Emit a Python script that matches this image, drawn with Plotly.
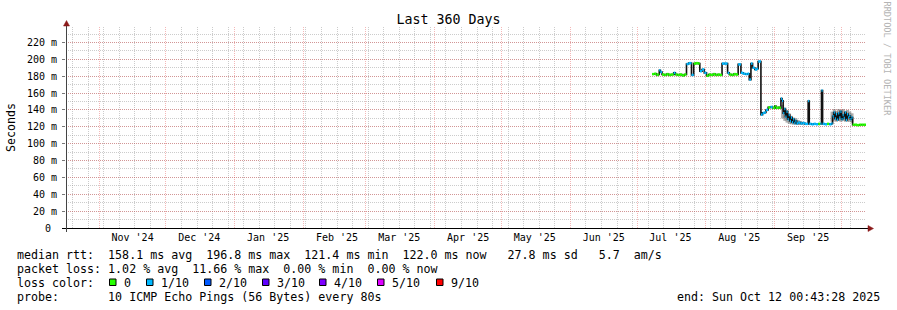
import plotly.graph_objects as go

# ---------------- data ----------------
title_text = "Last 360 Days"
x_start = "2024-10-17 00:43:28"
x_end = "2025-10-12 00:43:28"

month_label_dates = ["2024-11-16", "2024-12-16", "2025-01-16", "2025-02-16",
                     "2025-03-16", "2025-04-16", "2025-05-16", "2025-06-16",
                     "2025-07-16", "2025-08-16", "2025-09-16"]
month_labels = ["Nov '24", "Dec '24", "Jan '25", "Feb '25", "Mar '25", "Apr '25",
                "May '25", "Jun '25", "Jul '25", "Aug '25", "Sep '25"]

y_tick_vals = [0.0, 0.02, 0.04, 0.06, 0.08, 0.10, 0.12, 0.14, 0.16, 0.18, 0.20, 0.22]
y_tick_text = ["0\u00a0", "20 m", "40 m", "60 m", "80 m", "100 m", "120 m",
               "140 m", "160 m", "180 m", "200 m", "220 m"]

# median rtt (ms) and loss bucket (0 -> "0", 1 -> "1/10")
rtt_dates = [
    "2025-07-07 18:00", "2025-07-08 18:00", "2025-07-09 18:00", "2025-07-10 12:00",
    "2025-07-11 00:00", "2025-07-11 12:00", "2025-07-12 06:00", "2025-07-13 06:00",
    "2025-07-14 06:00", "2025-07-15 06:00", "2025-07-16 06:00", "2025-07-17 12:00",
    "2025-07-18 06:00", "2025-07-19 06:00", "2025-07-20 06:00", "2025-07-21 06:00",
    "2025-07-22 06:00", "2025-07-23 06:00", "2025-07-24 06:00", "2025-07-25 12:00",
    "2025-07-26 12:00", "2025-07-27 12:00", "2025-07-28 12:00", "2025-07-29 06:00",
    "2025-07-30 06:00", "2025-07-31 06:00", "2025-08-01 06:00", "2025-08-02 06:00",
    "2025-08-03 06:00", "2025-08-04 06:00", "2025-08-05 06:00", "2025-08-06 06:00",
    "2025-08-07 06:00", "2025-08-08 06:00", "2025-08-09 06:00", "2025-08-10 18:00",
    "2025-08-11 12:00", "2025-08-12 12:00", "2025-08-13 12:00", "2025-08-14 12:00",
    "2025-08-15 12:00", "2025-08-16 18:00", "2025-08-17 18:00", "2025-08-18 18:00",
    "2025-08-19 18:00", "2025-08-20 12:00", "2025-08-21 06:00", "2025-08-22 00:00",
    "2025-08-23 00:00", "2025-08-24 00:00", "2025-08-24 12:00", "2025-08-25 18:00",
    "2025-08-26 12:00", "2025-08-27 12:00", "2025-08-28 00:00", "2025-08-29 00:00",
    "2025-08-30 00:00", "2025-08-31 00:00", "2025-09-01 00:00", "2025-09-01 12:00",
    "2025-09-02 12:00", "2025-09-03 00:00", "2025-09-03 18:00", "2025-09-04 06:00",
    "2025-09-04 18:00", "2025-09-05 06:00", "2025-09-05 18:00", "2025-09-06 06:00",
    "2025-09-06 18:00", "2025-09-07 06:00", "2025-09-07 18:00", "2025-09-08 06:00",
    "2025-09-08 18:00", "2025-09-09 06:00", "2025-09-09 18:00", "2025-09-10 06:00",
    "2025-09-10 18:00", "2025-09-11 12:00", "2025-09-12 12:00", "2025-09-13 12:00",
    "2025-09-14 12:00", "2025-09-16 00:00", "2025-09-16 12:00", "2025-09-17 12:00",
    "2025-09-18 12:00", "2025-09-19 12:00", "2025-09-20 12:00", "2025-09-21 12:00",
    "2025-09-22 00:00", "2025-09-22 12:00", "2025-09-23 12:00", "2025-09-24 12:00",
    "2025-09-25 12:00", "2025-09-26 12:00", "2025-09-27 00:00", "2025-09-27 12:00",
    "2025-09-28 00:00", "2025-09-28 12:00", "2025-09-29 00:00", "2025-09-29 12:00",
    "2025-09-30 00:00", "2025-09-30 12:00", "2025-10-01 00:00", "2025-10-01 12:00",
    "2025-10-02 00:00", "2025-10-02 12:00", "2025-10-03 00:00", "2025-10-03 12:00",
    "2025-10-04 00:00", "2025-10-04 12:00", "2025-10-05 00:00", "2025-10-05 12:00",
    "2025-10-06 00:00", "2025-10-07 00:00", "2025-10-08 00:00", "2025-10-09 00:00",
    "2025-10-10 00:00", "2025-10-11 00:00", "2025-10-12 00:00",
]
rtt_median_ms = [
    182.5, 183.0, 181.5, 182.0,
    187.0, 185.0, 182.0, 181.5,
    182.5, 181.5, 182.0, 184.0,
    182.0, 181.5, 182.0, 181.0,
    182.0, 194.5, 195.5, 181.5,
    195.0, 195.5, 195.0, 186.0,
    188.0, 184.0, 180.5, 182.0,
    181.5, 182.5, 181.5, 182.0,
    181.5, 195.0, 195.0, 184.0,
    182.0, 181.5, 182.5, 182.0,
    194.0, 184.0, 183.0, 182.5,
    183.0, 176.0, 195.0, 190.0,
    188.0, 189.0, 197.5, 134.5,
    136.5, 137.0, 140.0, 143.0,
    143.5, 142.5, 144.5, 142.5,
    143.0, 142.5, 153.5, 151.0,
    136.0, 141.0, 132.0, 138.0,
    129.0, 134.0, 127.0, 131.0,
    125.5, 129.0, 124.5, 127.0,
    124.0, 125.0, 124.0, 124.5,
    123.5, 150.5, 123.5, 123.0,
    123.5, 123.0, 123.5, 123.5,
    163.0, 123.5, 123.0, 123.5,
    123.0, 124.0, 132.5, 137.0,
    130.0, 135.0, 128.5, 136.0,
    131.0, 138.0, 129.0, 134.0,
    130.5, 137.0, 128.0, 135.0,
    131.0, 133.0, 129.0, 131.0,
    122.5, 122.5, 122.0, 122.5,
    122.5, 122.5, 122.0,
]
loss_level = [
    0, 0, 0, 0,
    1, 1, 0, 0,
    0, 0, 0, 1,
    0, 0, 0, 0,
    0, 1, 1, 1,
    0, 0, 0, 1,
    1, 1, 0, 0,
    0, 0, 0, 0,
    0, 1, 1, 1,
    0, 0, 0, 0,
    1, 1, 1, 1,
    1, 1, 1, 1,
    1, 1, 1, 1,
    1, 1, 1, 0,
    1, 0, 0, 0,
    0, 0, 1, 1,
    1, 1, 1, 1,
    1, 1, 1, 1,
    1, 1, 1, 1,
    1, 1, 1, 1,
    1, 1, 1, 1,
    1, 1, 0, 1,
    1, 1, 1, 0,
    1, 1, 1, 1,
    1, 1, 1, 1,
    1, 1, 1, 1,
    1, 1, 1, 1,
    1, 1, 1, 1,
    0, 0, 0, 0,
    0, 0, 0,
]

# smoke (spread of individual pings, ms)
smoke_dates = [
    "2025-09-04 12:00", "2025-09-05 12:00", "2025-09-06 12:00", "2025-09-07 12:00",
    "2025-09-08 12:00", "2025-09-09 12:00", "2025-09-10 12:00", "2025-09-11 12:00",
    "2025-09-12 12:00", "2025-09-13 12:00",
    "2025-09-26 18:00", "2025-09-27 18:00", "2025-09-28 18:00", "2025-09-29 18:00",
    "2025-09-30 18:00", "2025-10-01 18:00", "2025-10-02 18:00", "2025-10-03 18:00",
    "2025-10-04 18:00", "2025-10-05 18:00",
]
smoke_lo_ms = [130.0, 127.0, 125.0, 123.5, 123.0, 122.5, 122.5, 122.5, 122.5, 122.5,
               126.0, 127.0, 126.0, 127.0, 126.0, 127.0, 126.0, 126.0, 126.0, 125.0]
smoke_hi_ms = [146.0, 143.0, 140.0, 136.0, 133.0, 131.0, 130.0, 128.0, 127.0, 126.0,
               138.0, 141.0, 139.0, 141.0, 140.0, 141.0, 139.0, 140.0, 138.0, 136.0]

loss_names = ["0", "1/10", "2/10", "3/10", "4/10", "5/10", "9/10"]
loss_colors = ["#26ff00", "#00b8ff", "#0059ff", "#5e00ff", "#7e00ff", "#dd00ff", "#ff0000"]

stats_line = "median rtt:  158.1 ms avg  196.8 ms max  121.4 ms min  122.0 ms now   27.8 ms sd   5.7  am/s"
loss_line = "packet loss: 1.02 % avg  11.66 % max  0.00 % min  0.00 % now"
probe_line = "probe:       10 ICMP Echo Pings (56 Bytes) every 80s"
end_line = "end: Sun Oct 12 00:43:28 2025"
watermark = "RRDTOOL / TOBI OETIKER"

# ---------------- layout geometry (pixels) ----------------
W, H = 897, 310
PL, PR, PT, PB = 66, 866, 27, 228
MONO = "DejaVu Sans Mono"


def px2x(px):
    return (px - PL) / (PR - PL)


def py2y(py):
    return (PB - py) / (PB - PT)


def nb(s):
    return s.replace(" ", "\u00a0")


fig = go.Figure()

# smoke
sx, sy = [], []
for d, lo, hi in zip(smoke_dates, smoke_lo_ms, smoke_hi_ms):
    sx += [d, d, None]
    sy += [lo / 1000, hi / 1000, None]
fig.add_trace(go.Scatter(x=sx, y=sy, mode="lines", line=dict(color="rgba(90,90,90,0.5)", width=3),
                         hoverinfo="skip", showlegend=False))

# black median step line
fig.add_trace(go.Scatter(x=rtt_dates + [x_end], y=[v / 1000 for v in rtt_median_ms] + [rtt_median_ms[-1] / 1000],
                         mode="lines", line=dict(color="#111111", width=1.6, shape="hv"),
                         hoverinfo="skip", showlegend=False))

# loss coloured median segments
for lvl, col in enumerate(loss_colors):
    xs, ys = [], []
    for i, d in enumerate(rtt_dates):
        if loss_level[i] != lvl:
            continue
        d1 = rtt_dates[i + 1] if i + 1 < len(rtt_dates) else x_end
        xs += [d, d1, None]
        ys += [rtt_median_ms[i] / 1000, rtt_median_ms[i] / 1000, None]
    if xs:
        fig.add_trace(go.Scatter(x=xs, y=ys, mode="lines", line=dict(color=col, width=2.5),
                                 hoverinfo="skip", showlegend=False))

# dummy (invisible) trace to carry the label axis
fig.add_trace(go.Scatter(x=[x_end], y=[0], xaxis="x2", mode="markers", marker=dict(opacity=0),
                         hoverinfo="skip", showlegend=False))

grid_grey = "rgba(143,143,143,0.45)"
grid_red = "rgba(222,48,48,0.34)"

fig.update_layout(
    width=W, height=H,
    margin=dict(l=PL, r=W - PR, t=PT, b=H - PB, pad=0),
    paper_bgcolor="#ffffff", plot_bgcolor="#ffffff",
    showlegend=False,
    title=dict(text=title_text, x=0.5, xref="container", xanchor="center",
               y=1 - 19 / H, yref="container", yanchor="middle",
               font=dict(family=MONO, size=13.3, color="#000000")),
    xaxis=dict(type="date", range=[x_start, x_end], automargin=False,
               tickmode="linear", tick0="2024-11-01", dtick="M1",
               showticklabels=False, ticks="",
               showgrid=True, gridcolor=grid_red, griddash="1px,1px", gridwidth=1,
               minor=dict(tickmode="linear", tick0="2024-10-20", dtick=7 * 86400000,
                          showgrid=True, gridcolor=grid_grey, griddash="1px,1px", gridwidth=1),
               zeroline=False, showline=False, fixedrange=True),
    xaxis2=dict(type="date", range=[x_start, x_end], overlaying="x", anchor="y", side="bottom",
                automargin=False, tickmode="array", tickvals=month_label_dates, ticktext=month_labels,
                showgrid=False, ticks="", zeroline=False, showline=False,
                tickfont=dict(family=MONO, size=10, color="#000000"), ticklabelstandoff=2),
    yaxis=dict(range=[0, (PB - PT) / 0.8432 / 1000], automargin=False,
               tickmode="array", tickvals=y_tick_vals, ticktext=y_tick_text,
               tickfont=dict(family=MONO, size=10, color="#000000"),
               ticks="outside", ticklen=3, tickcolor="#777777", tickwidth=1,
               showgrid=True, gridcolor=grid_red, griddash="1px,1px", gridwidth=1,
               minor=dict(tickmode="linear", tick0=0, dtick=0.01, showgrid=True,
                          gridcolor=grid_grey, griddash="1px,1px", gridwidth=1),
               zeroline=False, showline=False, fixedrange=True, ticklabelstandoff=3),
)

shapes = []
# axis lines
shapes.append(dict(type="line", xref="paper", yref="paper",
                   x0=px2x(62), x1=px2x(869), y0=py2y(228.5), y1=py2y(228.5),
                   line=dict(color="#000000", width=1)))
shapes.append(dict(type="line", xref="paper", yref="paper",
                   x0=px2x(66.5), x1=px2x(66.5), y0=py2y(232), y1=py2y(23),
                   line=dict(color="#444444", width=1)))
# arrows
arrow_col = "#8b1a1a"
shapes.append(dict(type="path", xref="paper", yref="paper",
                   path=f"M {px2x(63.5)},{py2y(26)} L {px2x(69.5)},{py2y(26)} L {px2x(66.5)},{py2y(20.5)} Z",
                   fillcolor=arrow_col, line=dict(color=arrow_col, width=0.5)))
shapes.append(dict(type="path", xref="paper", yref="paper",
                   path=f"M {px2x(868)},{py2y(225.5)} L {px2x(868)},{py2y(231.5)} L {px2x(873.5)},{py2y(228.5)} Z",
                   fillcolor=arrow_col, line=dict(color=arrow_col, width=0.5)))

annotations = []
# y axis title
annotations.append(dict(text="Seconds", xref="paper", yref="paper", x=px2x(11), y=py2y(127),
                        xanchor="center", yanchor="middle", textangle=-90, showarrow=False,
                        font=dict(family=MONO, size=11.6, color="#000000")))
# watermark
annotations.append(dict(text=nb(watermark), xref="paper", yref="paper", x=px2x(886.5), y=py2y(59),
                        xanchor="center", yanchor="middle", textangle=90, showarrow=False,
                        font=dict(family=MONO, size=8.6, color="#b4b4b4")))

legend_font = dict(family=MONO, size=11.65, color="#000000")
for txt, yc in [(stats_line, 254.5), (loss_line, 268.5), ("loss color:", 282.5), (probe_line, 296.5)]:
    annotations.append(dict(text=nb(txt), xref="paper", yref="paper", x=px2x(15), y=py2y(yc),
                            xanchor="left", yanchor="middle", showarrow=False, font=legend_font))
annotations.append(dict(text=nb(end_line), xref="paper", yref="paper", x=px2x(882), y=py2y(296.5),
                        xanchor="right", yanchor="middle", showarrow=False, font=legend_font))

label_x = [123, 160, 218, 276, 333, 391, 450]
for name, col, lx in zip(loss_names, loss_colors, label_x):
    annotations.append(dict(text=nb(name), xref="paper", yref="paper", x=px2x(lx - 1), y=py2y(282.5),
                            xanchor="left", yanchor="middle", showarrow=False, font=legend_font))
    shapes.append(dict(type="rect", xref="paper", yref="paper",
                       x0=px2x(lx - 13.5), x1=px2x(lx - 7), y0=py2y(285.5), y1=py2y(279),
                       fillcolor=col, line=dict(color="#000000", width=1)))

fig.update_layout(shapes=shapes, annotations=annotations)

fig.write_html("out.html")
